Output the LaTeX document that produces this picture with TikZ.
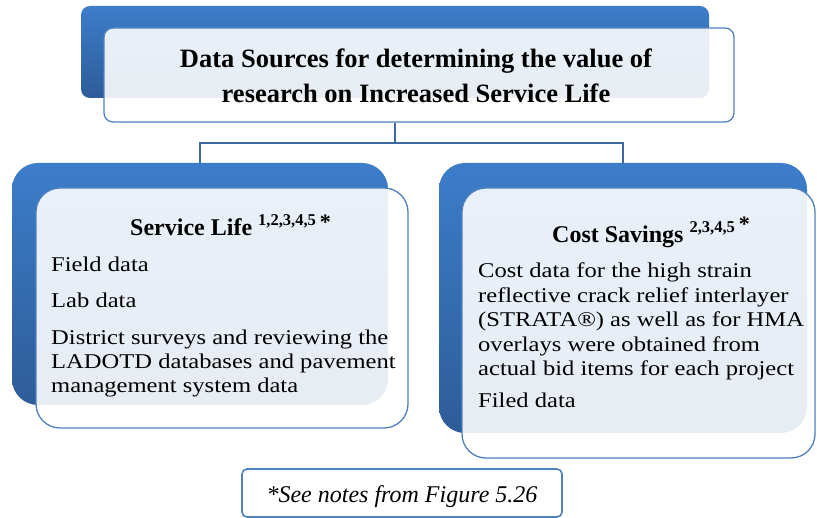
\documentclass[tikz,border=0pt]{standalone}
\usepackage{fontspec}
\setmainfont{Liberation Serif}
\newfontfamily\bodyfont[FakeStretch=1.17]{Liberation Serif}
\definecolor{bluetop}{HTML}{3C7DCA}
\definecolor{bluebot}{HTML}{2E5C98}
\definecolor{edgec}{HTML}{4F81BD}
\definecolor{linkc}{HTML}{3D6A9E}
\tikzset{
  backbox/.style={rectangle, draw=none, top color=bluetop, bottom color=bluebot, inner sep=0pt},
  frontbox/.style={rectangle, draw=edgec, line width=1.3pt, fill=white, fill opacity=0.89, inner sep=0pt},
  notebox/.style={rectangle, draw=edgec, line width=1.6pt, fill=white, inner sep=0pt, rounded corners=5pt},
  link/.style={draw=linkc, line width=1.5pt},
  titletxt/.style={anchor=base, inner sep=0pt, font=\fontsize{26.5}{30}\selectfont\bfseries},
  headtxt/.style={anchor=base west, inner sep=0pt, font=\fontsize{24}{28}\selectfont\bfseries},
  bodytxt/.style={anchor=base west, inner sep=0pt, font=\bodyfont\fontsize{21}{24}\selectfont},
  notetxt/.style={anchor=base, inner sep=0pt, font=\fontsize{24}{28}\selectfont\itshape}
}
\newcommand{\supnums}[1]{\raisebox{0.42em}{\fontsize{16.5}{16.5}\selectfont\bfseries #1}}
\begin{document}
\begin{tikzpicture}[x=1pt,y=-1pt]
\useasboundingbox (0,0) rectangle (817,518);
% top
\node[backbox, rounded corners=9pt, minimum width=628pt, minimum height=92pt] (topback) at (395,52) {};
\node[frontbox, rounded corners=9pt, minimum width=630pt, minimum height=94pt] (topfront) at (419,75) {};
\node[titletxt] (t1) at (416,68) {Data Sources for determining the value of};
\node[titletxt] (t2) at (416,103) {research on Increased Service Life};
% left
\node[backbox, rounded corners=26pt, minimum width=376pt, minimum height=242pt] (leftback) at (200,284) {};
\node[frontbox, rounded corners=24pt, minimum width=372pt, minimum height=240pt] (leftfront) at (222,308) {};
\node[headtxt] (lh) at (130,236) {Service Life \supnums{1,2,3,4,5}\,{\fontsize{22}{22}\selectfont\raisebox{0.28em}{*}}};
\node[bodytxt] (l1) at (51,272) {Field data};
\node[bodytxt] (l2) at (51,308) {Lab data};
\node[bodytxt] (l3) at (51,345) {District surveys and reviewing the};
\node[bodytxt] (l4) at (51,369) {LADOTD databases and pavement};
\node[bodytxt] (l5) at (51,393) {management system data};
% right
\node[backbox, rounded corners=26pt, minimum width=368pt, minimum height=270pt] (rightback) at (623,298) {};
\node[frontbox, rounded corners=24pt, minimum width=353pt, minimum height=270pt] (rightfront) at (638.5,323) {};
\node[headtxt] (rh) at (552,243) {Cost Savings \supnums{2,3,4,5}\,{\fontsize{22}{22}\selectfont\raisebox{0.5em}{*}}};
\node[bodytxt] (r1) at (478,278) {Cost data for the high strain};
\node[bodytxt] (r2) at (478,302.5) {reflective crack relief interlayer};
\node[bodytxt] (r3) at (478,327) {(STRATA®) as well as for HMA};
\node[bodytxt] (r4) at (478,351.5) {overlays were obtained from};
\node[bodytxt] (r5) at (478,376) {actual bid items for each project};
\node[bodytxt] (r6) at (478,408) {Filed data};
% connectors
\coordinate (j) at (395,143);
\draw[link] (topfront.south -| j) -- (j);
\draw[link] (leftback.north) |- (j) -| (rightback.north);
% note
\node[notebox, minimum width=320pt, minimum height=48pt] (note) at (402,493) {};
\node[notetxt] (nt) at (402,503) {*See notes from Figure 5.26};
\end{tikzpicture}
\end{document}
